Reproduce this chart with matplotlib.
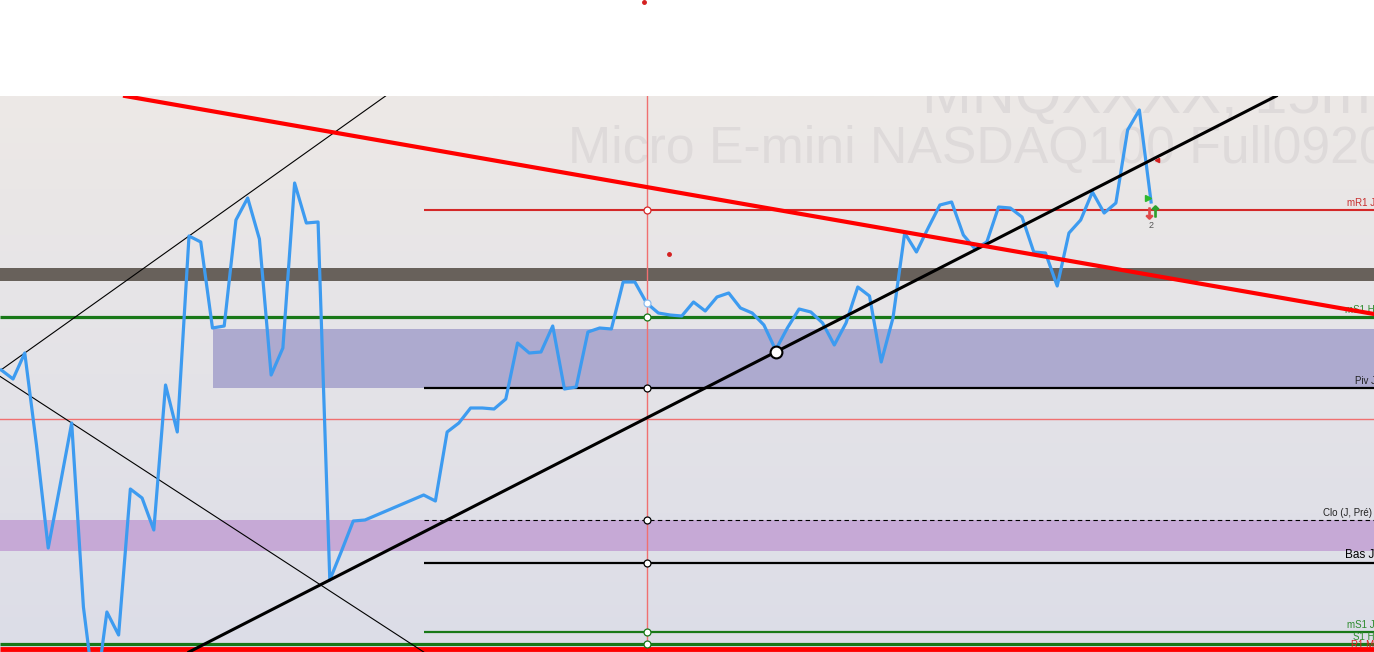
import numpy as np
import matplotlib.pyplot as plt
from matplotlib.colors import LinearSegmentedColormap
from matplotlib.transforms import blended_transform_factory

plt.rcParams['font.family'] = ['Liberation Sans', 'DejaVu Sans']

# 15m closes (points above the bottom of the visible range), one per bar
close = [282, 273, 299, 207, 104, 166, 229, 45, -48, 40,
         17, 163, 154, 122, 267, 220, 416, 410, 324, 326,
         432, 454, 413, 277, 304, 469, 429, 430, 72, 101,
         131, 132, 137, 142, 147, 152, 157, 151, 220, 229,
         244, 244, 243, 253, 309, 299, 300, 326, 263, 265,
         320, 324, 323, 370, 370, 349, 339, 337, 336, 350,
         341, 355, 359, 344, 339, 327, 302, 324, 343, 340,
         329, 307, 329, 365, 356, 290, 334, 419, 400, 424,
         447, 450, 417, 403, 410, 445, 444, 435, 400, 399,
         366, 419, 432, 460, 439, 449, 522, 542, 450]

# pivot levels: name, value, first bar (None = whole chart)
level_names = ["mR1 J", "mS1 H", "Piv J", "Clo (J, Pré)", "Bas J", "mS1 J", "S1 H", "R1 M"]
level_values = [442, 335, 264, 132, 89, 20, 8, 3]
level_start = [36, None, 36, 36, 36, 36, None, None]

# zones (low, high, first bar)
zone_low = [264, 101]
zone_high = [323, 132]
zone_start = [18.05, None]
band_low, band_high = 371, 384

# trendline anchors (bar, price)
red_trend = [(10.55, 556), (117.0, 338)]
black_trend = [(28, 72), (66, 300)]
thin_up = [(2, 299), (16, 416)]
thin_down = [(6, 229), (36, 0)]

cross_bar, cross_price = 55.05, 233
x_min, x_max = -0.11, 117.0
y_min, y_max = 0, 556

fig = plt.figure(figsize=(13.74, 6.52), dpi=100)
ax = fig.add_axes([0, 0, 1, 556 / 652])
ax.set_xlim(x_min, x_max)
ax.set_ylim(y_min, y_max)
ax.axis('off')

# background gradient
cmap = LinearSegmentedColormap.from_list('bg', ['#DCDDE7', '#E4E3E8', '#EDE9E6'])
grad = np.linspace(0, 1, 256).reshape(-1, 1)
ax.imshow(grad, cmap=cmap, origin='lower', aspect='auto',
          extent=[x_min, x_max, y_min, y_max], zorder=0)

# watermark
ax.text(922 / 1374, (652 - 113) / 556, "MNQXXXX, 15m", transform=ax.transAxes,
        fontsize=43, color='#DEDADA', va='baseline', ha='left', zorder=1, clip_on=True)
ax.text(568 / 1374, (652 - 163) / 556, "Micro E-mini NASDAQ100 Full0920", transform=ax.transAxes,
        fontsize=37.3, color='#DEDADA', va='baseline', ha='left', zorder=1, clip_on=True)

# zones
zone_cols = ['#ADAACF', '#C6A9D6']
for lo, hi, st, c in zip(zone_low, zone_high, zone_start, zone_cols):
    ax.fill_between([x_min if st is None else st, x_max], lo, hi, color=c, lw=0, zorder=2)
ax.fill_between([x_min, x_max], band_low, band_high, color='#68615B', lw=0, zorder=2)

# crosshair
ax.axhline(cross_price, color='#F07070', lw=1.0, zorder=3)
ax.axvline(cross_bar, color='#F07070', lw=1.0, zorder=3)

# levels
lvl_col = ['#D42828', '#187818', 'black', 'black', 'black', '#187818', '#187818', '#FF0000']
lvl_lw = [1.5, 2.3, 1.6, 0.8, 1.6, 1.6, 2.3, 3.5]
lvl_ls = ['-', '-', '-', (0, (4, 3)), '-', '-', '-', '-']
lbl_x = [1347, 1345, 1355, 1323, 1345, 1347, 1353, 1351]
lbl_dy = [7, 7, 7, 7, 8, 7, 7, 4]
lbl_fs = [7, 7, 7, 7, 8.5, 7, 7, 7]
lbl_col = ['#C83030', '#2E8B2E', '#222222', '#222222', 'black', '#2E8B2E', '#2E8B2E', '#E02020']
tr = blended_transform_factory(ax.transAxes, ax.transData)
for i, name in enumerate(level_names):
    st = x_min if level_start[i] is None else level_start[i]
    ax.plot([st, x_max], [level_values[i]] * 2, color=lvl_col[i], lw=lvl_lw[i],
            ls=lvl_ls[i], zorder=4, solid_capstyle='butt')
    ax.text(lbl_x[i] / 1374, level_values[i] + lbl_dy[i], name, transform=tr,
            fontsize=lbl_fs[i], color=lbl_col[i], ha='left', va='center', zorder=4, clip_on=True)

# thin trendlines
ax.axline(thin_up[0], thin_up[1], color='black', lw=0.8, zorder=5)
ax.axline(thin_down[0], thin_down[1], color='black', lw=0.8, zorder=5)

# price
bars = np.arange(len(close))
ax.plot(bars, close, color='#3D9BF0', lw=2.3, zorder=6)

# main trendlines
ax.axline(black_trend[0], black_trend[1], color='black', lw=2.2, zorder=7)
ax.axline(red_trend[0], red_trend[1], color='#FF0000', lw=3, zorder=7)

# anchors on the crosshair
edge = ['#D42828', '#187818', 'black', 'black', 'black', '#187818', '#187818']
for v, c in zip(level_values[:7], edge):
    ax.plot(cross_bar, v, 'o', ms=5, mfc='white', mec=c, mew=0.9, zorder=8)
ax.plot(cross_bar, 349, 'o', ms=5, mfc='white', mec='#8CBDF0', mew=0.9, zorder=8)
ax.plot(66.05, 300, 'o', ms=8.5, mfc='white', mec='black', mew=1.5, zorder=8)

# dots and trade marks
ax.plot(56.92, 398, 'o', ms=2.5, color='#D42020', zorder=8)
ax.plot(54.79, 650, 'o', ms=2.5, color='#D42020', zorder=8, clip_on=False)
ax.plot(97.76, 454, '>', ms=5, color='#2EB82E', zorder=9)
ax.plot(97.8, 439, marker=r'$\downarrow$', ms=8, color='#E04848', zorder=9)
ax.plot(98.35, 441, marker=r'$\uparrow$', ms=8, color='#2EA02E', zorder=9)
ax.plot(98.5, 492, '<', ms=3, color='#D42020', zorder=9)
ax.text(98.0, 427, "2", fontsize=6.5, color='#555555', ha='center', va='center', zorder=9)

fig.savefig('out.png', dpi=100, facecolor='white')
